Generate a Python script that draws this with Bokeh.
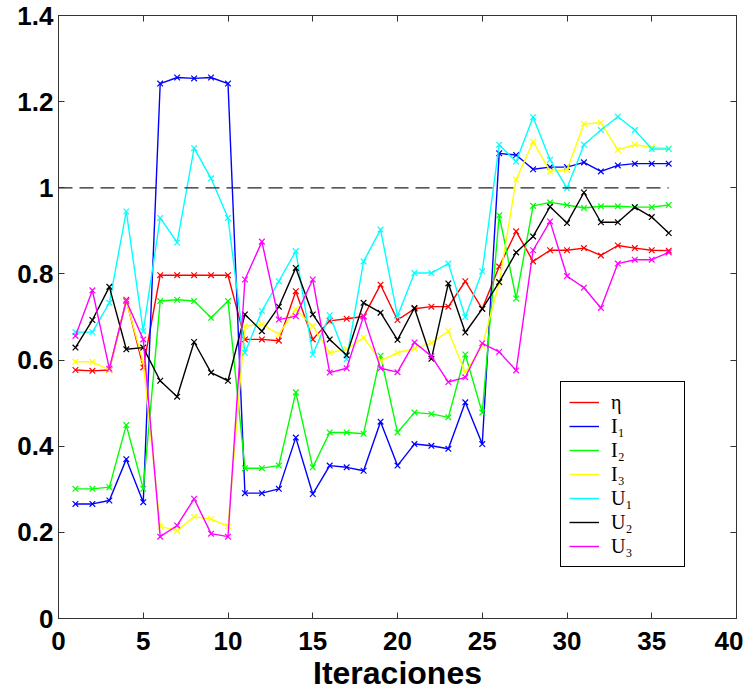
from bokeh.plotting import figure
from bokeh.models import (Legend, LegendItem, LinearAxis, FixedTicker,
                          PrintfTickFormatter, CustomJSTickFormatter, ColumnDataSource)
from bokeh.embed import file_html
from bokeh.resources import INLINE

iterations = list(range(1, 37))

eta = [0.577, 0.575, 0.577, 0.740, 0.583, 0.797, 0.797, 0.797, 0.797, 0.797,
       0.648, 0.648, 0.645, 0.760, 0.648, 0.691, 0.696, 0.701, 0.775, 0.693,
       0.719, 0.724, 0.724, 0.783, 0.719, 0.817, 0.899, 0.829, 0.855, 0.855,
       0.860, 0.843, 0.866, 0.860, 0.855, 0.854]
i1 = [0.266, 0.266, 0.274, 0.370, 0.270, 1.242, 1.256, 1.254, 1.256, 1.242,
      0.291, 0.291, 0.301, 0.420, 0.289, 0.355, 0.351, 0.343, 0.457, 0.355,
      0.405, 0.401, 0.394, 0.502, 0.405, 1.080, 1.076, 1.043, 1.048, 1.048,
      1.059, 1.038, 1.052, 1.056, 1.056, 1.056]
i2 = [0.301, 0.301, 0.305, 0.449, 0.301, 0.737, 0.740, 0.737, 0.698, 0.737,
      0.349, 0.349, 0.355, 0.525, 0.351, 0.432, 0.432, 0.429, 0.610, 0.432,
      0.478, 0.475, 0.467, 0.613, 0.478, 0.936, 0.743, 0.958, 0.966, 0.960,
      0.953, 0.957, 0.957, 0.955, 0.955, 0.960]
i3 = [0.596, 0.596, 0.577, 0.737, 0.595, 0.214, 0.204, 0.236, 0.231, 0.214,
      0.679, 0.683, 0.660, 0.718, 0.679, 0.617, 0.625, 0.652, 0.598, 0.617,
      0.627, 0.640, 0.667, 0.571, 0.633, 0.780, 1.019, 1.107, 1.038, 1.042,
      1.148, 1.151, 1.088, 1.100, 1.094, 1.092]
u1 = [0.665, 0.665, 0.733, 0.945, 0.667, 0.930, 0.873, 1.092, 1.022, 0.930,
      0.617, 0.714, 0.783, 0.853, 0.613, 0.704, 0.602, 0.829, 0.903, 0.702,
      0.802, 0.802, 0.824, 0.700, 0.806, 1.100, 1.061, 1.164, 1.065, 0.999,
      1.100, 1.134, 1.165, 1.134, 1.090, 1.090]
u2 = [0.629, 0.693, 0.770, 0.625, 0.629, 0.552, 0.515, 0.642, 0.571, 0.552,
      0.706, 0.667, 0.724, 0.814, 0.706, 0.648, 0.611, 0.733, 0.710, 0.647,
      0.721, 0.603, 0.778, 0.664, 0.719, 0.781, 0.850, 0.887, 0.956, 0.918,
      0.989, 0.920, 0.920, 0.955, 0.932, 0.895]
u3 = [0.656, 0.762, 0.580, 0.737, 0.648, 0.190, 0.216, 0.278, 0.197, 0.190,
      0.787, 0.875, 0.694, 0.702, 0.787, 0.571, 0.581, 0.702, 0.581, 0.572,
      0.641, 0.609, 0.549, 0.560, 0.639, 0.619, 0.576, 0.855, 0.922, 0.795,
      0.768, 0.721, 0.824, 0.833, 0.833, 0.850]

series_names = ["η", "I₁", "I₂", "I₃", "U₁", "U₂", "U₃"]
series_values = [eta, i1, i2, i3, u1, u2, u3]
series_colors = ["#ff0000", "#0000ff", "#00ff00", "#ffff00", "#00ffff", "#000000", "#ff00ff"]

ref_x = [0, 36]
ref_y = [1, 1]

x_ticks = [0, 5, 10, 15, 20, 25, 30, 35, 40]
y_ticks = [0, 0.2, 0.4, 0.6, 0.8, 1.0, 1.2, 1.4]

p = figure(width=743, height=693, x_range=(0, 40), y_range=(0, 1.4),
           output_backend="svg", toolbar_location=None,
           min_border_left=58, min_border_right=7, min_border_top=15,
           min_border_bottom=72)
p.grid.visible = False
p.outline_line_color = "#333333"
p.outline_line_width = 1

tick_font = "Liberation Sans"
for ax in (p.xaxis[0], p.yaxis[0]):
    ax.major_label_text_font = tick_font
    ax.major_label_text_font_style = "bold"
    ax.major_label_text_font_size = "26px"
    ax.major_label_text_color = "black"
    ax.major_tick_in = 6
    ax.major_tick_out = 0
    ax.minor_tick_line_color = None
    ax.axis_line_color = "#333333"
    ax.major_tick_line_color = "#333333"
p.xaxis[0].ticker = FixedTicker(ticks=x_ticks)
p.yaxis[0].ticker = FixedTicker(ticks=y_ticks)
p.yaxis[0].formatter = PrintfTickFormatter(format="%g")
p.xaxis[0].major_label_standoff = 13
p.yaxis[0].major_label_standoff = 5
p.xaxis[0].axis_label = "Iteraciones"
p.xaxis[0].axis_label_text_font = tick_font
p.xaxis[0].axis_label_text_font_style = "bold"
p.xaxis[0].axis_label_text_font_size = "32px"
p.xaxis[0].axis_label_text_color = "black"
p.xaxis[0].axis_label_standoff = 2

blank = CustomJSTickFormatter(code="return ''")
top_axis = LinearAxis(ticker=FixedTicker(ticks=x_ticks), formatter=blank,
                      major_tick_in=6, major_tick_out=0, minor_tick_line_color=None,
                      axis_line_color="#333333", major_tick_line_color="#333333",
                      major_label_standoff=0)
right_axis = LinearAxis(ticker=FixedTicker(ticks=y_ticks), formatter=blank,
                        major_tick_in=6, major_tick_out=0, minor_tick_line_color=None,
                        axis_line_color="#333333", major_tick_line_color="#333333",
                        major_label_standoff=0)
p.add_layout(top_axis, "above")
p.add_layout(right_axis, "right")

items = []
for name, vals, col in zip(series_names, series_values, series_colors):
    src = ColumnDataSource(dict(x=iterations, y=vals))
    r = p.line("x", "y", source=src, line_color=col, line_width=1.4)
    p.scatter("x", "y", source=src, marker="x", size=8, line_color=col, line_width=1.2)
    items.append(LegendItem(label=name, renderers=[r]))

p.line(ref_x, ref_y, line_color="#222222", line_width=1.3, line_dash="14 7")

legend = Legend(items=items, location=(502, 51), label_text_font="Liberation Serif",
                label_text_font_size="20px", label_text_color="black",
                glyph_width=30, glyph_height=24,
                label_height=24, spacing=0, padding=8, margin=0, label_standoff=12,
                label_width=65, border_line_color="black", border_line_width=1,
                border_line_alpha=1.0,
                background_fill_color="white", background_fill_alpha=1.0)
p.add_layout(legend, "center")

open("out.html", "w").write(file_html(p, INLINE))
